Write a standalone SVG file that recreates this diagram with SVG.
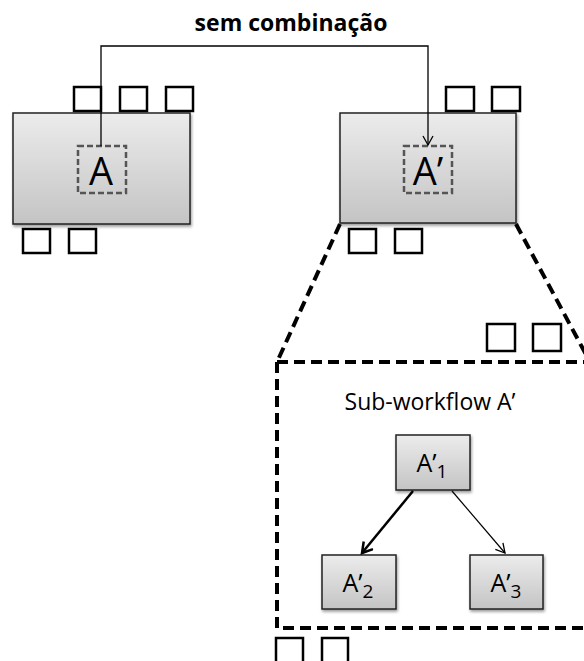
<svg xmlns="http://www.w3.org/2000/svg" width="584" height="661" viewBox="0 0 584 661">
<style>
.port{fill:#fff;stroke:#000;stroke-width:2.5}
.box{fill:url(#g);stroke:#222;stroke-width:1.5}
.inner{fill:none;stroke:#555;stroke-width:2.5;stroke-dasharray:6,3}
.dash{fill:none;stroke:#000;stroke-width:4;stroke-dasharray:11,6}
.lbl{font-family:"Open Sans","Liberation Sans",sans-serif;fill:#000}
.edge{fill:none;stroke:#000}
</style>
<defs>
<linearGradient id="g" x1="0" y1="0" x2="0" y2="1">
<stop offset="0" stop-color="#ececec"/>
<stop offset="1" stop-color="#c4c4c4"/>
</linearGradient>
<filter id="sh" x="-10%" y="-10%" width="130%" height="130%">
<feGaussianBlur in="SourceAlpha" stdDeviation="1.5"/>
<feOffset dx="1" dy="2" result="b"/>
<feComponentTransfer><feFuncA type="linear" slope="0.4"/></feComponentTransfer>
<feMerge><feMergeNode/><feMergeNode in="SourceGraphic"/></feMerge>
</filter>
<marker id="arr" markerWidth="12" markerHeight="12" refX="10" refY="6" orient="auto" markerUnits="userSpaceOnUse">
<path d="M1,1 L10,6 L1,11" fill="none" stroke="#000" stroke-width="1.3"/>
</marker>
<marker id="arrB" markerWidth="14" markerHeight="14" refX="11" refY="7" orient="auto" markerUnits="userSpaceOnUse">
<path d="M1,1 L11,7 L1,13" fill="none" stroke="#000" stroke-width="2.5"/>
</marker>
</defs>

<g id="nodeA">
<rect class="port" x="74" y="87" width="27" height="24"/>
<rect class="port" x="120" y="87" width="27" height="24"/>
<rect class="port" x="166" y="87" width="27" height="24"/>
<rect class="box" x="13" y="113" width="177" height="111" filter="url(#sh)"/>
<rect class="inner" x="78" y="146" width="48" height="47"/>
<text class="lbl" x="101" y="185" font-size="38" text-anchor="middle">A</text>
<rect class="port" x="23" y="229" width="27" height="24"/>
<rect class="port" x="69" y="229" width="27" height="24"/>
</g>

<g id="nodeAprime">
<rect class="port" x="446" y="87" width="28" height="24"/>
<rect class="port" x="492" y="87" width="28" height="24"/>
<rect class="box" x="340" y="113" width="176" height="110" filter="url(#sh)"/>
<rect class="inner" x="404" y="146" width="48" height="47"/>
<text class="lbl" x="428" y="185" font-size="38" text-anchor="middle">A’</text>
<rect class="port" x="349" y="229" width="27" height="24"/>
<rect class="port" x="395" y="229" width="27" height="24"/>
</g>

<g id="subworkflow">
<path class="dash" d="M340,224 L277,362"/>
<path class="dash" d="M516,224 L590,362"/>
<path class="dash" d="M277,362 H590 M277,362 V628 H590"/>
<rect class="port" x="487" y="324" width="28" height="27"/>
<rect class="port" x="533" y="324" width="28" height="27"/>
<rect class="port" x="276" y="638" width="27" height="30"/>
<rect class="port" x="322" y="638" width="26" height="30"/>
<text class="lbl" x="430" y="410" font-size="23" text-anchor="middle">Sub-workflow A’</text>
</g>

<g id="nodeA1">
<rect class="box" x="396" y="435" width="74" height="55" filter="url(#sh)"/>
<text class="lbl" x="432" y="472" font-size="25" text-anchor="middle">A’<tspan font-size="19" dy="6">1</tspan></text>
</g>
<g id="nodeA2">
<rect class="box" x="322" y="555" width="74" height="54" filter="url(#sh)"/>
<text class="lbl" x="358" y="592" font-size="25" text-anchor="middle">A’<tspan font-size="19" dy="6">2</tspan></text>
</g>
<g id="nodeA3">
<rect class="box" x="470" y="555" width="73" height="54" filter="url(#sh)"/>
<text class="lbl" x="506" y="592" font-size="25" text-anchor="middle">A’<tspan font-size="19" dy="6">3</tspan></text>
</g>

<g id="connectors">
<path class="edge" stroke-width="1.3" d="M101,146 V46 H428 V145" marker-end="url(#arr)"/>
<text class="lbl" x="291" y="31" font-size="23" font-weight="bold" text-anchor="middle">sem combinação</text>
<path class="edge" stroke-width="2.5" d="M413,491 L362,553" marker-end="url(#arrB)"/>
<path class="edge" stroke-width="1.2" d="M452,491 L505,553" marker-end="url(#arr)"/>
</g>
</svg>
